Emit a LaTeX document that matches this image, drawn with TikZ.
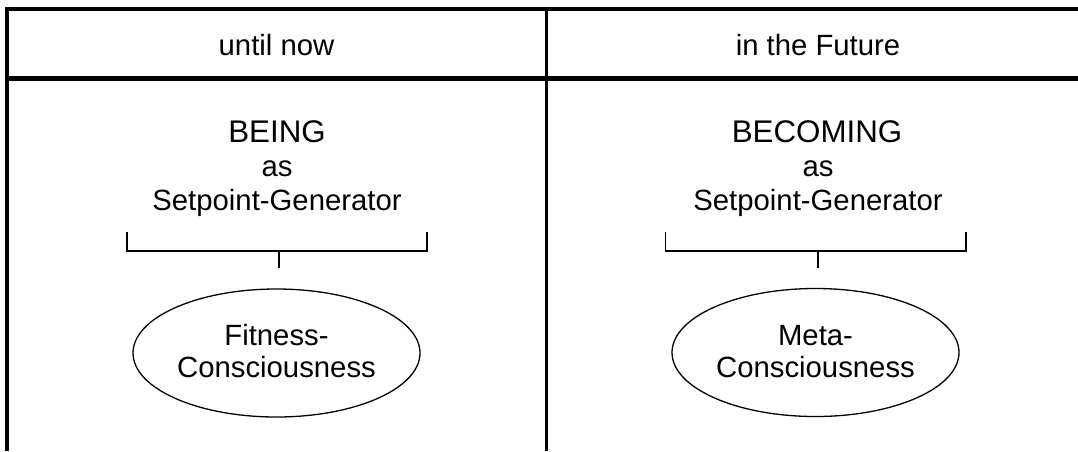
\documentclass[tikz,border=0pt]{standalone}
\usepackage{fontspec}
\setmainfont{Liberation Sans}
\usetikzlibrary{shapes.geometric}
\begin{document}
\begin{tikzpicture}[x=1pt,y=-1pt,
  txt/.style={font=\fontsize{29.3}{33.7}\selectfont, inner sep=0pt, anchor=base},
  ttl/.style={txt, font=\fontsize{31.3}{36}\selectfont},
  frame/.style={line width=4pt},
  mid/.style={line width=2.6pt},
  brk/.style={line width=1.6pt},
  oval/.style={ellipse, draw, line width=1.3pt, minimum width=287pt, minimum height=128pt, inner sep=0pt}]
\useasboundingbox (0,0) rectangle (1078,451);
% frame
\draw[frame] (5,9) -- (1078,9);
\draw[line width=3.2pt] (7,7) -- (7,451);
\draw[line width=4.4pt] (5,78.5) -- (1078,78.5);
\draw[mid] (546.5,7) -- (546.5,451);
% headers
\node[txt] (h1) at (276.5,55) {until now};
\node[txt] (h2) at (818,55) {in the Future};
% left column
\node[ttl] (l1) at (277,142.3) {BEING};
\node[txt] (l2) at (277,176) {as};
\node[txt] (l3) at (277,210.7) {Setpoint-Generator};
\draw[brk] (127,232) -- (127,250.7) -- (427,250.7) -- (427,232);
\draw[brk] (279,250.7) -- (279,268);
\node[oval] (e1) at (276.5,353) {};
\node[txt] (e1a) at (276.5,345.7) {Fitness-};
\node[txt] (e1b) at (276.5,377) {Consciousness};
% right column
\node[ttl] (r1) at (817,142.3) {BECOMING};
\node[txt] (r2) at (818,176) {as};
\node[txt] (r3) at (818,210.7) {Setpoint-Generator};
\draw[brk] (665.5,232) -- (665.5,250.7) -- (966,250.7) -- (966,232);
\draw[brk] (818,250.7) -- (818,268);
\node[oval] (e2) at (815.5,352.5) {};
\node[txt] (e2a) at (815.5,345.7) {Meta-};
\node[txt] (e2b) at (815.5,377) {Consciousness};
\end{tikzpicture}
\end{document}
